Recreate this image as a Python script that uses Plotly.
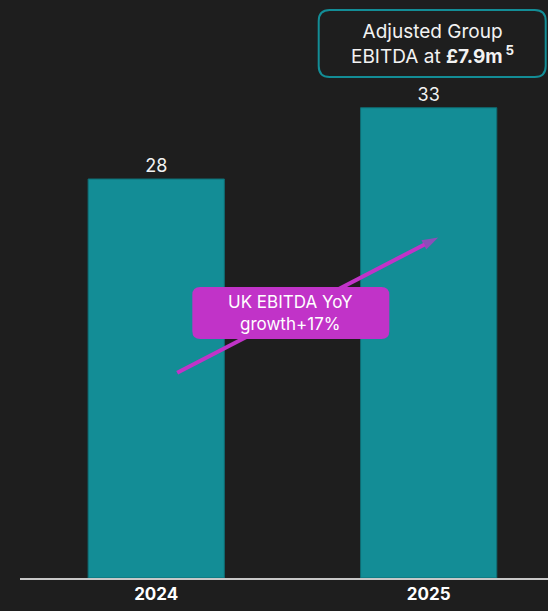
import plotly.graph_objects as go

# EBITDA by year (£m)
years = ["2024", "2025"]
ebitda = [28, 33]

# UK EBITDA growth callout arrow endpoints (x in bar index units, y in £m)
arrow_x = [0.077, 1.035]
arrow_y = [14.4, 23.9]

BG = "#1e1e1e"
TEAL = "#138d96"
PURPLE = "#c133c8"
FONT = "Inter, Roboto, sans-serif"

idx = list(range(len(years)))

fig = go.Figure()
fig.add_trace(go.Bar(
    x=idx, y=ebitda, width=0.5,
    marker=dict(color=TEAL, line=dict(color="#0f6d74", width=1)),
    text=[str(v) for v in ebitda], textposition="outside",
    textfont=dict(color="#f2f2f2", size=18, family=FONT),
    cliponaxis=False, hoverinfo="skip",
))
fig.add_trace(go.Scatter(
    x=arrow_x, y=arrow_y, mode="lines+markers",
    line=dict(color=PURPLE, width=4),
    marker=dict(symbol=["circle", "arrow"], size=[0, 17], angleref="previous",
                color=PURPLE, line=dict(width=0)),
    hoverinfo="skip", cliponaxis=False,
))


def rounded_rect(w, h, r):
    hw, hh = w / 2, h / 2
    return (f"M{-hw + r},{-hh} L{hw - r},{-hh} Q{hw},{-hh} {hw},{-hh + r} "
            f"L{hw},{hh - r} Q{hw},{hh} {hw - r},{hh} L{-hw + r},{hh} "
            f"Q{-hw},{hh} {-hw},{hh - r} L{-hw},{-hh + r} Q{-hw},{-hh} {-hw + r},{-hh} Z")


# Group EBITDA callout box
fig.add_shape(type="path", xref="x", yref="y", xsizemode="pixel", ysizemode="pixel",
              xanchor=1.013, yanchor=37.5, path=rounded_rect(227, 67, 11),
              line=dict(color=TEAL, width=2), fillcolor=BG, layer="above")
fig.add_annotation(x=1.013, y=37.5, xref="x", yref="y", showarrow=False,
                   text="Adjusted Group<br>EBITDA at <b>£7.9m\u2009<sup>5</sup></b>",
                   font=dict(color="#f2f2f2", size=19, family=FONT))

# UK growth label
fig.add_shape(type="path", xref="x", yref="y", xsizemode="pixel", ysizemode="pixel",
              xanchor=0.494, yanchor=18.6, path=rounded_rect(197, 52, 8),
              line=dict(width=0), fillcolor=PURPLE, layer="above")
fig.add_annotation(x=0.494, y=18.6, xref="x", yref="y", showarrow=False,
                   text="UK EBITDA YoY<br>growth+17%",
                   font=dict(color="#ffffff", size=17, family=FONT))

fig.update_layout(
    width=548, height=611, paper_bgcolor=BG, plot_bgcolor=BG,
    margin=dict(l=20, r=0, t=0, b=33), showlegend=False,
    font=dict(family=FONT, color="#f2f2f2"),
)
fig.update_xaxes(range=[-0.5, 1.438], tickvals=idx, ticktext=[f"<b>{y}</b>" for y in years],
                 tickfont=dict(size=17, color="#ffffff", family=FONT),
                 showline=True, linecolor="#c8c8c8", linewidth=2,
                 showgrid=False, zeroline=False, ticks="", ticklen=0)
fig.update_yaxes(range=[0, 40.56], visible=False, showgrid=False, zeroline=False)

fig.write_html("out.html")
